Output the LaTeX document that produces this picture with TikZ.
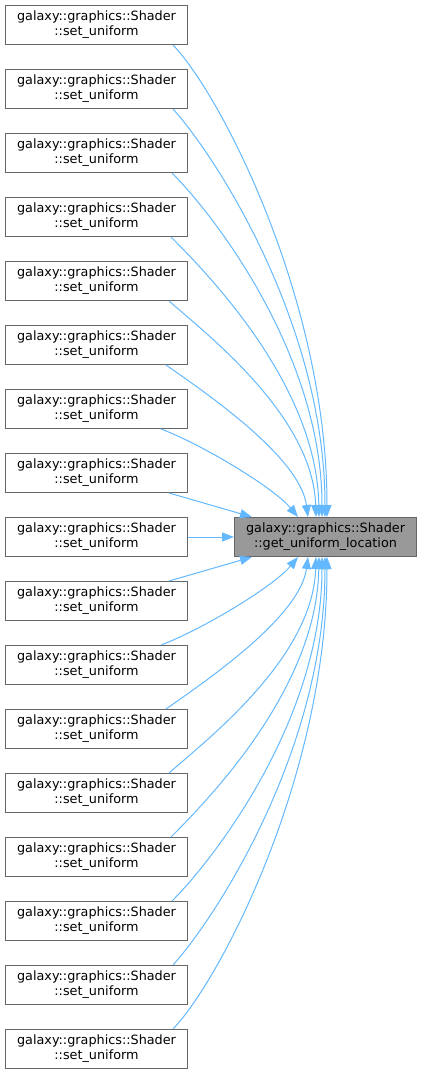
\documentclass[tikz,border=0pt]{standalone}
\usepackage{fontspec}
\setmainfont{DejaVu Sans}
\usetikzlibrary{arrows.meta}
\definecolor{edgeblue}{HTML}{63B8FF}
\definecolor{boxgray}{HTML}{666666}
\definecolor{hilite}{HTML}{999999}

\begin{document}
\begin{tikzpicture}[
x=1pt,
y=-1pt,
>={Triangle[length=12pt,width=9pt]},
fnbox/.style={
draw=boxgray,
line width=1pt,
minimum width=182pt,
minimum height=39pt,
inner sep=0pt,
align=center,
anchor=north west,
font=\fontsize{12.8}{15}\selectfont
},
caller/.style={fnbox,fill=white},
callee/.style={fnbox,fill=hilite},
call/.style={->,draw=edgeblue,line width=1pt}
]
\useasboundingbox (0,0) rectangle (421,1075);

% callers
\foreach \i in {0,...,16}
  \node[caller] (s\i) at (5,{5+64*\i}) {galaxy::graphics::Shader\\::set\_uniform};

% callee
\node[callee] (tgt) at (234,517) {galaxy::graphics::Shader\\::get\_uniform\_location};

% straight calls
\draw[call] (s8.east) -- (tgt.west);
\draw[call] ([xshift=-19pt]s7.south east) -- ([xshift=18pt]tgt.north west);
\draw[call] ([xshift=-19pt]s9.north east) -- ([xshift=18pt]tgt.south west);

% curved calls, upper and lower halves
\foreach \i/\so/\eo/\ax/\ay/\bx/\by in {
  0/-15/93/48/50/0/-217,
  1/-15/91/45/50/0/-190,
  2/-16/88/45/45/0/-160,
  3/-17/85/40/40/-2/-130,
  4/-19/82/40/35/-3/-100,
  5/-22/74/40/28/-8/-60,
  6/-27/64/40/15/-25/-30}
{
  \pgfmathtruncatemacro{\j}{16-\i}
  \draw[call] ([xshift=\so pt]s\i.south east)
    .. controls +(\ax,\ay) and +(\bx,\by) .. ([xshift=\eo pt]tgt.north west);
  \draw[call] ([xshift=\so pt]s\j.north east)
    .. controls +(\ax,{-(\ay)}) and +(\bx,{-(\by)}) .. ([xshift=\eo pt]tgt.south west);
}

\end{tikzpicture}
\end{document}
